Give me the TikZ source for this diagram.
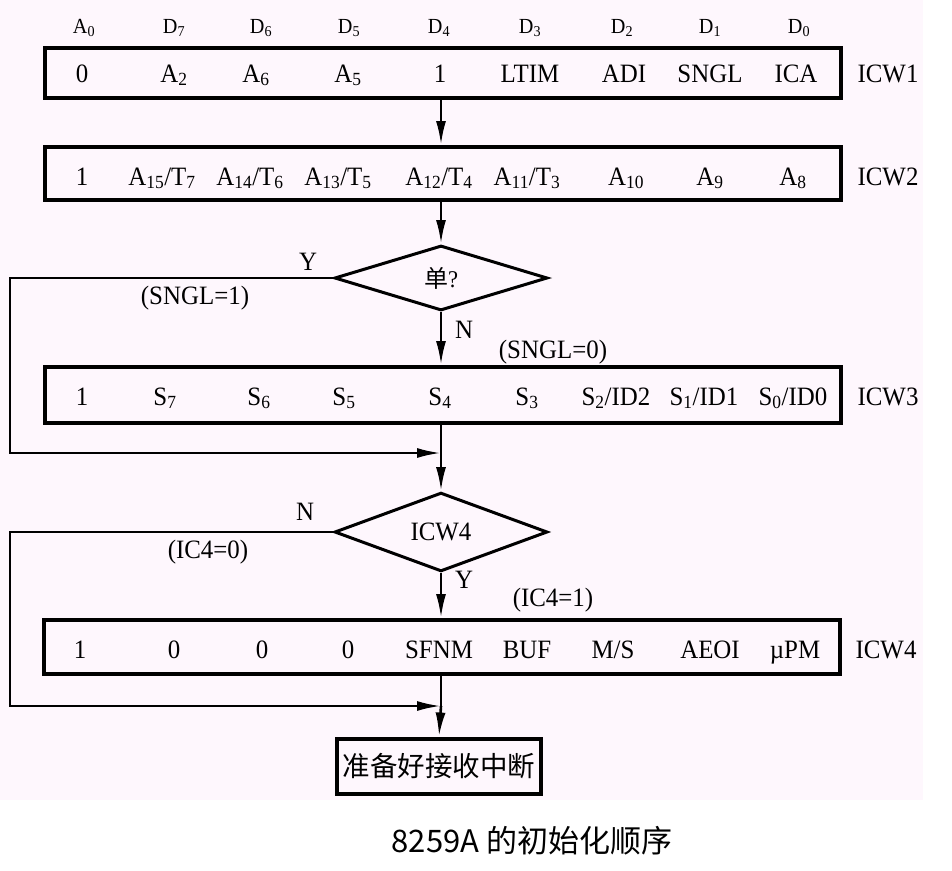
\documentclass[tikz,border=0pt]{standalone}
\usepackage{fontspec}
\setmainfont{Liberation Serif}[FakeStretch=0.94]
\newfontfamily\cjk{Noto Sans CJK SC}
\usetikzlibrary{arrows.meta,shapes.geometric}
\definecolor{bgpink}{RGB}{254,247,253}
\tikzset{
  wordbox/.style={draw, line width=4pt, minimum width=796pt, inner sep=0pt},
  cell/.style={font=\fontsize{26.5}{26.5}\selectfont, anchor=base, inner sep=0pt},
  hdr/.style={font=\fontsize{21.5}{21.5}\selectfont, anchor=base, inner sep=0pt},
  lbl/.style={font=\fontsize{26.5}{26.5}\selectfont, inner sep=0pt},
  dec/.style={diamond, draw, line width=3pt, minimum width=213pt, inner sep=0pt},
  conn/.style={line width=2.6pt},
  arr/.style={conn, -{Latex[length=24pt,width=10pt]}},
}
\begin{document}
\begin{tikzpicture}[x=1pt,y=-1pt]
\useasboundingbox (0,0) rectangle (952,870);
\fill[white] (0,0) rectangle (952,870);
\fill[bgpink] (0,0) rectangle (923,800);

% header
\foreach \x/\t [count=\i] in {84/{A\textsubscript{0}},174/{D\textsubscript{7}},261/{D\textsubscript{6}},349/{D\textsubscript{5}},439/{D\textsubscript{4}},530/{D\textsubscript{3}},622/{D\textsubscript{2}},710/{D\textsubscript{1}},799/{D\textsubscript{0}}}
  \node[hdr] (h\i) at (\x,33) {\t};

% boxes
\node[wordbox, minimum height=50pt] (icw1) at (443,73) {};
\node[wordbox, minimum height=53pt] (icw2) at (443,173.5) {};
\node[wordbox, minimum height=56pt] (icw3) at (443,395) {};
\node[wordbox, minimum height=54pt] (icw4) at (442,647) {};
\node[draw, line width=4pt, minimum width=204pt, minimum height=55pt, inner sep=0pt,
      font=\cjk\fontsize{27.5}{27.5}\selectfont] (fin) at (439,766) {准备好接收中断};

% row texts
\foreach \x/\t [count=\i] in {82/0,174/{A\textsubscript{2}},256/{A\textsubscript{6}},348/{A\textsubscript{5}},440/1,530/LTIM,624/ADI,710/SNGL,796/ICA}
  \node[cell] (ra\i) at (\x,82) {\t};
\foreach \x/\t [count=\i] in {82/1,162/{A\textsubscript{15}/T\textsubscript{7}},250/{A\textsubscript{14}/T\textsubscript{6}},338/{A\textsubscript{13}/T\textsubscript{5}},439/{A\textsubscript{12}/T\textsubscript{4}},527/{A\textsubscript{11}/T\textsubscript{3}},626/{A\textsubscript{10}},710/{A\textsubscript{9}},793/{A\textsubscript{8}}}
  \node[cell] (rb\i) at (\x,185) {\t};
\foreach \x/\t [count=\i] in {82/1,165/{S\textsubscript{7}},259/{S\textsubscript{6}},344/{S\textsubscript{5}},440/{S\textsubscript{4}},527/{S\textsubscript{3}},616/{S\textsubscript{2}/ID2},704/{S\textsubscript{1}/ID1},793/{S\textsubscript{0}/ID0}}
  \node[cell] (rc\i) at (\x,405) {\t};
\foreach \x/\t [count=\i] in {80/1,174/0,262/0,348/0,439/SFNM,527/BUF,613/{M/S},710/AEOI,795/{\textmu PM}}
  \node[cell] (rd\i) at (\x,658) {\t};

% side labels
\node[cell] (s1) at (888,82) {ICW1};
\node[cell] (s2) at (888,185) {ICW2};
\node[cell] (s3) at (888,405) {ICW3};
\node[cell] (s4) at (886,658) {ICW4};

% decisions
\node[dec, minimum height=65pt, font=\cjk\fontsize{24}{24}\selectfont] (q1) at (441,278) {单\textrm{?}};
\node[dec, minimum height=62pt, font=\fontsize{26.5}{26.5}\selectfont] (q2) at (441,532) {ICW4};

\coordinate (lx) at (10,0);
\coordinate (j1) at (441,453);
\coordinate (j2) at (441,706);

% connectors
\draw[arr] (icw1.south -| q1) -- (icw2.north -| q1);
\draw[arr] (icw2.south -| q1) -- (q1.north);
\draw[arr] (q1.south) -- (icw3.north -| q1);
\draw[conn] (icw3.south -| q1) -- (j1);
\draw[arr] (j1) -- (q2.north);
\draw[arr] (q1.west) -- (q1.west -| lx) |- (j1);
\draw[arr] (q2.south) -- (icw4.north -| q1);
\draw[conn] (icw4.south -| q1) -- (j2);
\draw[arr] (j2) -- (fin.north);
\draw[arr] (q2.west) -- (q2.west -| lx) |- (j2);

% branch labels
\node[lbl] (y1) at (308,262) {Y};
\node[lbl] (c1) at (195,298) {(SNGL=1)};
\node[lbl] (n1) at (464,330) {N};
\node[lbl] (c2) at (553,352) {(SNGL=0)};
\node[lbl] (n2) at (305,512) {N};
\node[lbl] (c3) at (208,552) {(IC4=0)};
\node[lbl] (y2) at (464,580) {Y};
\node[lbl] (c4) at (553,600) {(IC4=1)};

% caption
\node[font=\cjk\fontsize{31}{31}\selectfont, inner sep=0pt] (cap) at (532,841) {8259A 的初始化顺序};
\end{tikzpicture}
\end{document}
